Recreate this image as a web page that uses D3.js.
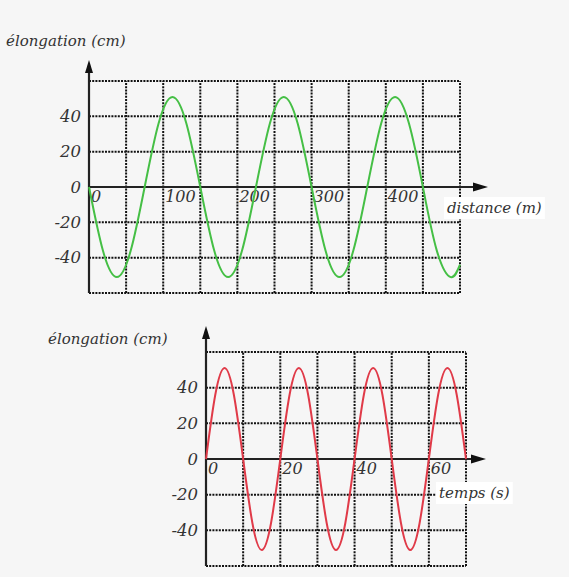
<!DOCTYPE html>
<html>
<head>
<meta charset="utf-8">
<script src="https://cdn.jsdelivr.net/npm/d3@7"></script>
<style>
  body { margin: 0; background: #f6f6f6; }
  text { font-family: "DejaVu Serif", serif; font-style: italic; fill: #333; }
</style>
</head>
<body>
<div id="viz"></div>
<script>
// wave in space (green) : distance in m, elongation in cm
var distances = [0, 18.75, 37.5, 56.25, 75, 93.75, 112.5, 131.25, 150, 168.75, 187.5, 206.25, 225,
                 243.75, 262.5, 281.25, 300, 318.75, 337.5, 356.25, 375, 393.75, 412.5, 431.25, 450,
                 468.75, 487.5, 500],
    elongDist = [0, -36, -51, -36, 0, 36, 51, 36, 0, -36, -51, -36, 0,
                 36, 51, 36, 0, -36, -51, -36, 0, 36, 51, 36, 0,
                 -36, -51, -44];

// wave in time (red) : time in s, elongation in cm
var times = [0, 2.5, 5, 7.5, 10, 12.5, 15, 17.5, 20, 22.5, 25, 27.5, 30, 32.5, 35,
             37.5, 40, 42.5, 45, 47.5, 50, 52.5, 55, 57.5, 60, 62.5, 65, 67.5, 70],
    elongTime = [0, 36, 51, 36, 0, -36, -51, -36, 0, 36, 51, 36, 0, -36, -51,
                 -36, 0, 36, 51, 36, 0, -36, -51, -36, 0, 36, 51, 36, 0];

var distTicks = [0, 100, 200, 300, 400],
    timeTicks = [0, 20, 40, 60],
    elongTicks = [40, 20, 0, -20, -40];

var W = 569, H = 577;

var svg = d3.select('#viz').append('svg')
  .attr('width', W)
  .attr('height', H);

svg.append('rect').attr('width', W).attr('height', H).attr('fill', '#f6f6f6');

function drawPanel(opt) {
  var x = d3.scaleLinear().domain(opt.xDomain).range(opt.xRange),
      y = d3.scaleLinear().domain([-60, 60]).range(opt.yRange);

  var g = svg.append('g');

  // dotted grid
  var grid = g.append('g')
    .attr('stroke', '#111')
    .attr('stroke-width', 2)
    .attr('stroke-dasharray', '2,1.2');

  grid.selectAll('line.v').data(d3.range(opt.xDomain[0], opt.xDomain[1] + 0.001, opt.xStep))
    .enter().append('line')
      .attr('class', 'v')
      .attr('x1', function(d) { return x(d); })
      .attr('x2', function(d) { return x(d); })
      .attr('y1', y(-60))
      .attr('y2', y(60));

  grid.selectAll('line.h').data(d3.range(-60, 61, 20))
    .enter().append('line')
      .attr('class', 'h')
      .attr('x1', x(opt.xDomain[0]))
      .attr('x2', x(opt.xDomain[1]))
      .attr('y1', function(d) { return y(d); })
      .attr('y2', function(d) { return y(d); });

  // axes
  var x0 = x(0), y0 = y(0);
  g.append('line')
    .attr('x1', x0).attr('x2', opt.xArrow - 12)
    .attr('y1', y0).attr('y2', y0)
    .attr('stroke', '#222').attr('stroke-width', 2.2);
  g.append('path')
    .attr('d', 'M' + opt.xArrow + ',' + y0 + 'L' + (opt.xArrow - 15) + ',' + (y0 - 4.5) +
               'L' + (opt.xArrow - 15) + ',' + (y0 + 4.5) + 'Z')
    .attr('fill', '#111');

  g.append('line')
    .attr('x1', x0).attr('x2', x0)
    .attr('y1', y(-60)).attr('y2', opt.yArrow + 10)
    .attr('stroke', '#222').attr('stroke-width', 2.2);
  g.append('path')
    .attr('d', 'M' + x0 + ',' + opt.yArrow + 'L' + (x0 - 4) + ',' + (opt.yArrow + 13) +
               'L' + (x0 + 4) + ',' + (opt.yArrow + 13) + 'Z')
    .attr('fill', '#111');

  // tick labels
  g.selectAll('text.yl').data(elongTicks)
    .enter().append('text')
      .attr('class', 'yl')
      .attr('x', x0 - 8)
      .attr('y', function(d) { return y(d); })
      .attr('dy', '0.35em')
      .attr('text-anchor', 'end')
      .attr('font-size', 16.5)
      .text(function(d) { return d; });

  g.selectAll('text.xl').data(opt.xTicks)
    .enter().append('text')
      .attr('class', 'xl')
      .attr('x', function(d) { return x(d) + 2; })
      .attr('y', y0 + 15)
      .attr('font-size', 16)
      .text(function(d) { return d; });

  // curve
  var line = d3.line()
    .x(function(d, i) { return x(opt.xs[i]); })
    .y(function(d) { return y(d); })
    .curve(d3.curveNatural);

  g.append('path')
    .datum(opt.ys)
    .attr('d', line)
    .attr('fill', 'none')
    .attr('stroke', opt.color)
    .attr('stroke-width', 2);

  // axis titles
  var xt = g.append('g');
  var xtText = xt.append('text')
    .attr('x', opt.xTitle[0])
    .attr('y', opt.xTitle[1])
    .attr('font-size', 15)
    .text(opt.xLabel);
  var bb = xtText.node().getBBox();
  xt.insert('rect', 'text')
    .attr('x', bb.x - 3).attr('y', bb.y - 2)
    .attr('width', bb.width + 6).attr('height', bb.height + 4)
    .attr('fill', '#ffffff');

  g.append('text')
    .attr('x', opt.yTitle[0])
    .attr('y', opt.yTitle[1])
    .attr('font-size', 15)
    .text('élongation (cm)');
}

drawPanel({
  xDomain: [0, 500], xRange: [89, 460], xStep: 50,
  yRange: [293, 81],
  xArrow: 488, yArrow: 60,
  xTicks: distTicks,
  xs: distances, ys: elongDist,
  color: '#45bf45',
  xLabel: 'distance (m)', xTitle: [447, 213],
  yTitle: [6, 46]
});

drawPanel({
  xDomain: [0, 70], xRange: [206, 466], xStep: 10,
  yRange: [566, 352],
  xArrow: 486, yArrow: 326,
  xTicks: timeTicks,
  xs: times, ys: elongTime,
  color: '#e03a48',
  xLabel: 'temps (s)', xTitle: [439, 498],
  yTitle: [48, 344]
});
</script>
</body>
</html>
